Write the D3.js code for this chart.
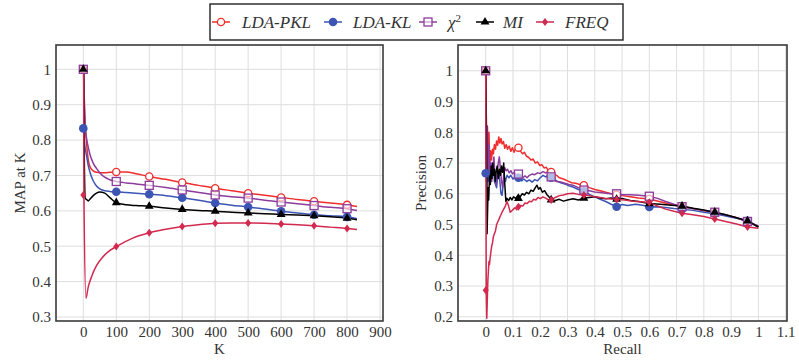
<!DOCTYPE html>
<html>
<head>
<meta charset="utf-8">
<script src="https://cdn.jsdelivr.net/npm/d3@7"></script>
<style>
  body { margin: 0; background: #fff; }
</style>
</head>
<body>
<div id="chart"></div>
<script>
// ---- data: MAP at K (left) ----
var mapTicksX = [0,100,200,300,400,500,600,700,800,900];
var mapTicksY = [0.3,0.4,0.5,0.6,0.7,0.8,0.9,1];
var markerK = [0,100,200,300,400,500,600,700,800];

var pklMap = [[1,1.0],[3,0.90],[6,0.84],[10,0.79],[15,0.745],[20,0.725],[30,0.713],[40,0.709],[50,0.708],[65,0.708],[80,0.709],[100,0.710],[130,0.710],[160,0.705],[200,0.697],[250,0.689],[300,0.680],[350,0.672],[400,0.664],[450,0.657],[500,0.650],[550,0.644],[600,0.638],[650,0.632],[700,0.627],[750,0.622],[800,0.617],[830,0.612]];
var klMap = [[1,0.833],[3,0.80],[6,0.775],[10,0.755],[15,0.728],[20,0.71],[30,0.685],[40,0.670],[50,0.662],[65,0.657],[80,0.655],[100,0.654],[130,0.652],[160,0.650],[200,0.647],[250,0.643],[300,0.637],[350,0.630],[400,0.622],[450,0.616],[500,0.611],[550,0.605],[600,0.599],[650,0.594],[700,0.589],[750,0.586],[800,0.583],[830,0.578]];
var chiMap = [[1,1.0],[3,0.92],[6,0.84],[10,0.805],[15,0.78],[20,0.76],[30,0.735],[40,0.72],[50,0.708],[65,0.695],[80,0.688],[100,0.683],[130,0.679],[160,0.676],[200,0.672],[250,0.666],[300,0.659],[350,0.652],[400,0.645],[450,0.640],[500,0.636],[550,0.630],[600,0.625],[650,0.620],[700,0.615],[750,0.610],[800,0.606],[830,0.601]];
var miMap = [[1,1.0],[3,0.75],[6,0.635],[10,0.632],[15,0.628],[20,0.633],[30,0.643],[40,0.650],[50,0.653],[65,0.650],[80,0.638],[100,0.623],[130,0.617],[160,0.615],[200,0.613],[250,0.608],[300,0.604],[350,0.601],[400,0.599],[450,0.596],[500,0.594],[550,0.592],[600,0.590],[650,0.588],[700,0.586],[750,0.583],[800,0.579],[830,0.575]];
var freqMap = [[1,1.0],[2,0.643],[8,0.353],[15,0.385],[25,0.414],[40,0.445],[56,0.466],[75,0.484],[100,0.499],[150,0.523],[200,0.538],[250,0.548],[300,0.556],[350,0.561],[400,0.565],[450,0.566],[500,0.566],[550,0.565],[600,0.563],[650,0.561],[700,0.558],[750,0.554],[800,0.550],[830,0.547]];

var pklMapMk = [1.0,0.710,0.697,0.680,0.664,0.650,0.638,0.627,0.617];
var klMapMk = [0.833,0.654,0.647,0.637,0.622,0.611,0.599,0.589,0.583];
var chiMapMk = [1.0,0.683,0.672,0.659,0.645,0.636,0.625,0.615,0.606];
var miMapMk = [1.0,0.623,0.613,0.604,0.599,0.594,0.590,0.586,0.579];
var freqMapMk = [0.645,0.499,0.538,0.556,0.565,0.566,0.563,0.558,0.550];

// ---- data: precision / recall (right) ----
var prTicksX = [0,0.1,0.2,0.3,0.4,0.5,0.6,0.7,0.8,0.9,1,1.1];
var prTicksY = [0.2,0.3,0.4,0.5,0.6,0.7,0.8,0.9,1];
var markerR = [0,0.12,0.24,0.36,0.48,0.6,0.72,0.84,0.96];

var pklPR = [[0,1.0],[0.002,0.64],[0.004,0.70],[0.006,0.82],[0.008,0.66],[0.010,0.72],[0.012,0.80],[0.015,0.69],[0.018,0.74],[0.021,0.71],[0.025,0.745],[0.028,0.73],[0.032,0.76],[0.036,0.745],[0.040,0.772],[0.044,0.758],[0.048,0.785],[0.052,0.765],[0.056,0.78],[0.060,0.762],[0.065,0.77],[0.070,0.748],[0.075,0.76],[0.080,0.745],[0.086,0.755],[0.092,0.738],[0.098,0.75],[0.104,0.735],[0.110,0.748],[0.116,0.742],[0.122,0.75],[0.128,0.738],[0.135,0.73],[0.142,0.735],[0.150,0.722],[0.158,0.718],[0.166,0.71],[0.174,0.713],[0.182,0.70],[0.190,0.704],[0.198,0.692],[0.206,0.695],[0.214,0.684],[0.222,0.686],[0.230,0.675],[0.240,0.671],[0.250,0.664],[0.260,0.66],[0.270,0.652],[0.285,0.648],[0.300,0.642],[0.315,0.636],[0.330,0.634],[0.345,0.63],[0.360,0.628],[0.380,0.62],[0.400,0.614],[0.420,0.61],[0.440,0.605],[0.460,0.60],[0.480,0.597],[0.500,0.594],[0.530,0.59],[0.560,0.586],[0.600,0.583],[0.640,0.574],[0.680,0.565],[0.720,0.558],[0.760,0.552],[0.800,0.545],[0.840,0.538],[0.880,0.530],[0.920,0.522],[0.960,0.508],[1.000,0.494]];
var klPR = [[0,0.667],[0.002,0.83],[0.004,0.62],[0.006,0.70],[0.009,0.64],[0.012,0.69],[0.016,0.66],[0.020,0.70],[0.024,0.66],[0.028,0.69],[0.032,0.64],[0.036,0.63],[0.040,0.62],[0.044,0.66],[0.048,0.67],[0.052,0.64],[0.056,0.60],[0.060,0.595],[0.064,0.63],[0.068,0.655],[0.072,0.64],[0.078,0.66],[0.085,0.652],[0.092,0.66],[0.100,0.648],[0.108,0.655],[0.116,0.645],[0.124,0.652],[0.132,0.642],[0.140,0.648],[0.150,0.64],[0.160,0.645],[0.170,0.638],[0.180,0.646],[0.190,0.642],[0.200,0.652],[0.210,0.66],[0.220,0.655],[0.230,0.662],[0.240,0.652],[0.250,0.648],[0.260,0.642],[0.275,0.636],[0.290,0.632],[0.305,0.626],[0.320,0.622],[0.340,0.614],[0.360,0.608],[0.380,0.598],[0.400,0.590],[0.420,0.582],[0.440,0.575],[0.460,0.566],[0.480,0.558],[0.500,0.565],[0.520,0.562],[0.550,0.566],[0.580,0.562],[0.600,0.557],[0.630,0.558],[0.660,0.555],[0.690,0.552],[0.720,0.550],[0.760,0.546],[0.800,0.540],[0.840,0.535],[0.880,0.528],[0.920,0.520],[0.960,0.512],[1.000,0.492]];
var chiPR = [[0,1.0],[0.003,0.70],[0.006,0.82],[0.009,0.68],[0.012,0.76],[0.015,0.66],[0.018,0.70],[0.022,0.64],[0.026,0.68],[0.030,0.72],[0.034,0.66],[0.038,0.63],[0.042,0.66],[0.046,0.70],[0.050,0.72],[0.054,0.68],[0.058,0.64],[0.062,0.62],[0.066,0.66],[0.070,0.685],[0.075,0.675],[0.080,0.68],[0.086,0.668],[0.092,0.675],[0.098,0.665],[0.105,0.67],[0.112,0.66],[0.120,0.664],[0.128,0.655],[0.136,0.652],[0.144,0.658],[0.152,0.652],[0.160,0.66],[0.170,0.664],[0.180,0.662],[0.190,0.668],[0.200,0.666],[0.210,0.672],[0.220,0.668],[0.230,0.674],[0.240,0.655],[0.250,0.645],[0.260,0.64],[0.275,0.638],[0.290,0.634],[0.305,0.63],[0.320,0.628],[0.340,0.62],[0.360,0.612],[0.380,0.61],[0.400,0.606],[0.420,0.604],[0.440,0.602],[0.460,0.600],[0.480,0.600],[0.500,0.598],[0.530,0.597],[0.560,0.595],[0.600,0.592],[0.630,0.585],[0.660,0.575],[0.690,0.566],[0.720,0.558],[0.760,0.552],[0.800,0.546],[0.840,0.540],[0.880,0.532],[0.920,0.522],[0.960,0.510],[1.000,0.495]];
var miPR = [[0,1.0],[0.003,0.80],[0.005,0.47],[0.007,0.55],[0.009,0.62],[0.011,0.58],[0.014,0.66],[0.017,0.63],[0.020,0.69],[0.023,0.65],[0.026,0.70],[0.029,0.66],[0.032,0.68],[0.035,0.64],[0.038,0.67],[0.042,0.69],[0.046,0.65],[0.050,0.68],[0.054,0.66],[0.058,0.69],[0.062,0.67],[0.066,0.70],[0.070,0.63],[0.074,0.575],[0.078,0.585],[0.084,0.578],[0.090,0.588],[0.096,0.58],[0.102,0.59],[0.110,0.585],[0.118,0.595],[0.126,0.59],[0.134,0.60],[0.142,0.596],[0.150,0.605],[0.158,0.60],[0.166,0.612],[0.174,0.608],[0.182,0.62],[0.188,0.628],[0.194,0.615],[0.200,0.62],[0.208,0.605],[0.216,0.61],[0.224,0.598],[0.232,0.59],[0.240,0.58],[0.255,0.578],[0.270,0.582],[0.285,0.576],[0.300,0.58],[0.320,0.584],[0.340,0.58],[0.360,0.586],[0.380,0.588],[0.400,0.59],[0.420,0.586],[0.440,0.584],[0.460,0.586],[0.480,0.582],[0.500,0.585],[0.530,0.578],[0.560,0.575],[0.600,0.568],[0.640,0.566],[0.680,0.563],[0.720,0.560],[0.760,0.553],[0.800,0.547],[0.840,0.540],[0.880,0.532],[0.920,0.522],[0.960,0.512],[1.000,0.492]];
var freqPR = [[0,1.0],[0.002,0.29],[0.004,0.195],[0.006,0.26],[0.008,0.32],[0.010,0.35],[0.012,0.38],[0.014,0.37],[0.016,0.39],[0.019,0.41],[0.022,0.43],[0.025,0.44],[0.028,0.46],[0.032,0.47],[0.036,0.48],[0.040,0.50],[0.045,0.51],[0.050,0.52],[0.055,0.53],[0.060,0.54],[0.066,0.55],[0.072,0.56],[0.078,0.575],[0.084,0.56],[0.090,0.54],[0.096,0.545],[0.102,0.55],[0.108,0.555],[0.114,0.548],[0.120,0.558],[0.128,0.562],[0.136,0.56],[0.144,0.57],[0.152,0.568],[0.160,0.576],[0.168,0.574],[0.176,0.582],[0.184,0.58],[0.192,0.588],[0.200,0.584],[0.210,0.59],[0.220,0.586],[0.230,0.58],[0.240,0.58],[0.255,0.588],[0.270,0.594],[0.285,0.596],[0.300,0.6],[0.320,0.602],[0.340,0.598],[0.360,0.596],[0.380,0.594],[0.400,0.59],[0.420,0.588],[0.440,0.585],[0.460,0.583],[0.480,0.581],[0.510,0.58],[0.540,0.576],[0.570,0.574],[0.600,0.572],[0.630,0.56],[0.660,0.55],[0.690,0.543],[0.720,0.537],[0.760,0.532],[0.800,0.526],[0.840,0.518],[0.880,0.51],[0.920,0.502],[0.960,0.492],[1.000,0.488]];

var pklPRMk = [1.0,0.75,0.671,0.628,0.597,0.583,0.558,0.538,0.508];
var klPRMk = [0.667,0.652,0.652,0.608,0.558,0.557,0.55,0.535,0.512];
var chiPRMk = [1.0,0.664,0.655,0.612,0.600,0.592,0.558,0.540,0.510];
var miPRMk = [1.0,0.585,0.580,0.586,0.582,0.568,0.560,0.540,0.512];
var freqPRMk = [0.286,0.558,0.58,0.596,0.581,0.572,0.537,0.518,0.492];

var seriesNames = ["LDA-PKL","LDA-KL","\u03c7","MI","FREQ"];
var colors = ["#f02c2c","#3c55b4","#8c3c9c","#000000","#d2294f"];
var shapes = ["circleOpen","circle","squareOpen","triangle","diamond"];
var serif = "'Liberation Serif', 'DejaVu Serif', serif";

var W = 799, H = 361;
var svg = d3.select("#chart").append("svg").attr("width", W).attr("height", H);

function drawMarker(g, shape, color, x, y) {
  if (shape == "circleOpen") {
    g.append("circle").attr("cx", x).attr("cy", y).attr("r", 3.6)
      .attr("fill", "#fff").attr("stroke", color).attr("stroke-width", 1.3);
  } else if (shape == "circle") {
    g.append("circle").attr("cx", x).attr("cy", y).attr("r", 4.3).attr("fill", color);
  } else if (shape == "squareOpen") {
    g.append("rect").attr("x", x - 4).attr("y", y - 4).attr("width", 8).attr("height", 8)
      .attr("fill", "#fff").attr("fill-opacity", 0.6).attr("stroke", color).attr("stroke-width", 1.3);
  } else if (shape == "triangle") {
    g.append("path").attr("d", d3.symbol(d3.symbolTriangle, 34)())
      .attr("transform", "translate(" + x + "," + y + ")").attr("fill", color);
  } else {
    g.append("path").attr("d", "M0,-4L3,0L0,4L-3,0Z")
      .attr("transform", "translate(" + x + "," + y + ")").attr("fill", color);
  }
}

function panel(opt) {
  var x = d3.scaleLinear().domain(opt.xDomain).range([opt.left, opt.right]);
  var y = d3.scaleLinear().domain(opt.yDomain).range([opt.bottom, opt.top]);
  var g = svg.append("g");

  // grid
  g.selectAll(".gx").data(opt.ticksX).enter().append("line")
    .attr("x1", d => x(d)).attr("x2", d => x(d))
    .attr("y1", opt.top).attr("y2", opt.bottom)
    .attr("stroke", "#dedede").attr("stroke-width", 1);
  g.selectAll(".gy").data(opt.ticksY).enter().append("line")
    .attr("x1", opt.left).attr("x2", opt.right)
    .attr("y1", d => y(d)).attr("y2", d => y(d))
    .attr("stroke", "#dedede").attr("stroke-width", 1);

  // axes: labels only, pgfplots style
  var ax = g.append("g").attr("transform", "translate(0," + opt.bottom + ")")
    .call(d3.axisBottom(x).tickValues(opt.ticksX).tickSize(0).tickPadding(5).tickFormat(d3.format("")));
  ax.select(".domain").remove();
  ax.selectAll("text").style("font-family", serif).style("font-size", "15px").attr("fill", "#333");
  var ay = g.append("g").attr("transform", "translate(" + opt.left + ",0)")
    .call(d3.axisLeft(y).tickValues(opt.ticksY).tickSize(0).tickPadding(5).tickFormat(d3.format("")));
  ay.select(".domain").remove();
  ay.selectAll("text").style("font-family", serif).style("font-size", "15px").attr("fill", "#333");

  g.append("clipPath").attr("id", opt.id).append("rect")
    .attr("x", opt.left).attr("y", opt.top)
    .attr("width", opt.right - opt.left).attr("height", opt.bottom - opt.top);
  var plot = g.append("g").attr("clip-path", "url(#" + opt.id + ")");

  var line = d3.line().x(d => x(d[0])).y(d => y(d[1])).curve(opt.curve);
  opt.lines.forEach(function (ln, i) {
    plot.append("path").datum(ln).attr("d", line)
      .attr("fill", "none").attr("stroke", colors[i]).attr("stroke-width", 1.5)
      .attr("stroke-linejoin", "round");
  });
  opt.marks.forEach(function (mk, i) {
    mk.forEach(function (v, j) {
      drawMarker(plot, shapes[i], colors[i], x(opt.markerX[j]), y(v));
    });
  });

  // frame
  g.append("rect").attr("x", opt.left).attr("y", opt.top)
    .attr("width", opt.right - opt.left).attr("height", opt.bottom - opt.top)
    .attr("fill", "none").attr("stroke", "#3a3a3a").attr("stroke-width", 1.6);

  g.append("text").attr("x", (opt.left + opt.right) / 2).attr("y", 354)
    .attr("text-anchor", "middle").style("font-family", serif).style("font-size", "15px")
    .attr("fill", "#333").text(opt.xLabel);
  g.append("text").attr("transform", "translate(" + opt.yLabelX + "," + ((opt.top + opt.bottom) / 2) + ") rotate(-90)")
    .attr("text-anchor", "middle").style("font-family", serif).style("font-size", "15px")
    .attr("fill", "#333").text(opt.yLabel);
}

panel({
  id: "clipL", left: 56, right: 383, top: 45, bottom: 321,
  xDomain: [-82.8, 909], yDomain: [0.2887, 1.0687],
  ticksX: mapTicksX, ticksY: mapTicksY,
  lines: [pklMap, klMap, chiMap, miMap, freqMap],
  marks: [pklMapMk, klMapMk, chiMapMk, miMapMk, freqMapMk],
  markerX: markerK, curve: d3.curveMonotoneX,
  xLabel: "K", yLabel: "MAP at K", yLabelX: 25
});

panel({
  id: "clipR", left: 458, right: 787, top: 45, bottom: 321,
  xDomain: [-0.1016, 1.1049], yDomain: [0.1862, 1.0839],
  ticksX: prTicksX, ticksY: prTicksY,
  lines: [pklPR, klPR, chiPR, miPR, freqPR],
  marks: [pklPRMk, klPRMk, chiPRMk, miPRMk, freqPRMk],
  markerX: markerR, curve: d3.curveLinear,
  xLabel: "Recall", yLabel: "Precision", yLabelX: 426
});

// legend
var leg = svg.append("g");
leg.append("rect").attr("x", 210).attr("y", 4).attr("width", 413).attr("height", 36)
  .attr("fill", "#fff").attr("stroke", "#222").attr("stroke-width", 1.4);
var legMarkX = [221, 333, 428, 485, 545];
var legTextX = [242, 353, 448, 503, 565];
seriesNames.forEach(function (name, i) {
  leg.append("line").attr("x1", legMarkX[i] - 9).attr("x2", legMarkX[i] + 9)
    .attr("y1", 22).attr("y2", 22).attr("stroke", colors[i]).attr("stroke-width", 1.5);
  drawMarker(leg, shapes[i], colors[i], legMarkX[i], 22);
  var t = leg.append("text").attr("x", legTextX[i]).attr("y", 28)
    .style("font-family", serif).style("font-size", "17px").style("font-style", "italic")
    .attr("fill", "#333").text(name);
  if (i == 2) {
    t.append("tspan").attr("dy", -6).style("font-size", "11px").style("font-style", "normal").text("2");
  }
});
</script>
</body>
</html>
